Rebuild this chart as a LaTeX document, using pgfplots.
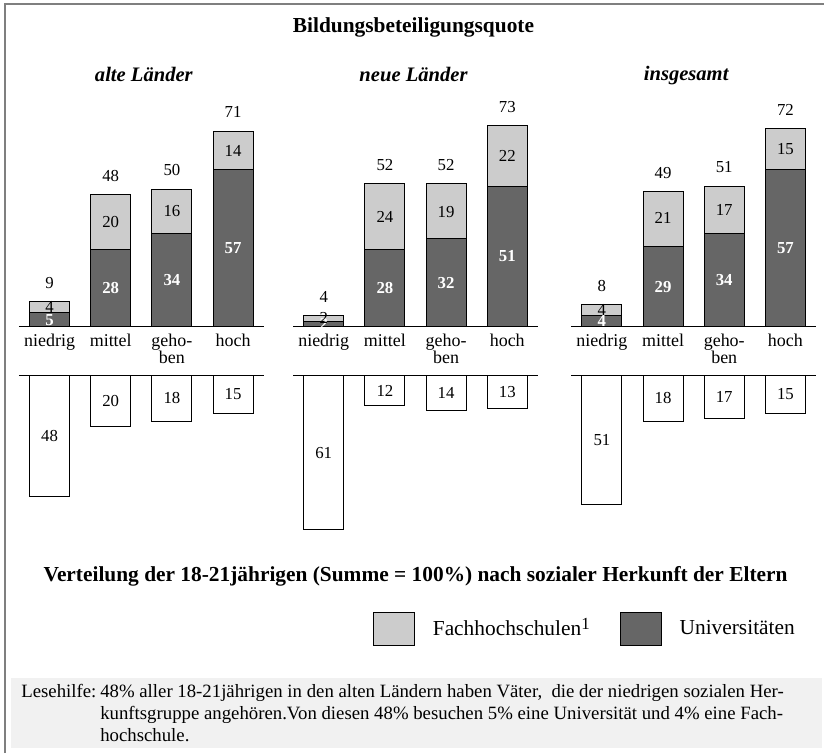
\documentclass[border=0pt]{standalone}
\usepackage{fontspec}
\setmainfont{Liberation Serif}
\usepackage{pgfplots}
\usepackage{pgfplotstable}
\pgfplotsset{compat=1.18}

\definecolor{fhgray}{HTML}{CCCCCC}
\definecolor{unigray}{HTML}{666666}
\definecolor{boxgray}{HTML}{F1F1F1}
\definecolor{framegray}{HTML}{7F7F7F}

% x = Herkunftsgruppe (niedrig, mittel, gehoben, hoch)
% uni/fh/tot = Bildungsbeteiligungsquote, dist = Verteilung der 18-21jaehrigen
\pgfplotstableread{
x uni fh tot dist
0 5  4  9  48
1 28 20 48 20
2 34 16 50 18
3 57 14 71 15
}\alte
\pgfplotstableread{
x uni fh tot dist
0 2  2  4  61
1 28 24 52 12
2 32 19 52 14
3 51 22 73 13
}\neue
\pgfplotstableread{
x uni fh tot dist
0 4  4  8  51
1 29 21 49 18
2 34 17 51 17
3 57 15 72 15
}\gesamt

\pgfplotsset{
  upper/.style={scale only axis, width=122.5pt, height=110.2pt,
    xmin=-0.5, xmax=3.5, ymin=0, ymax=80,
    axis x line=bottom, axis y line=none,
    x axis line style={-, line width=0.5pt},
    xtick={0,1,2,3}, xticklabels={niedrig, mittel, {geho-\\ben}, hoch},
    major tick length=0pt, xtick style={draw=none},
    xticklabel style={align=center, font=\fontsize{9}{8.5}\selectfont},
    clip=false, anchor=south west},
  lower/.style={scale only axis, width=122.5pt, height=82.25pt,
    xmin=-0.5, xmax=3.5, ymin=-65, ymax=0,
    axis x line=top, axis y line=none,
    x axis line style={-, line width=0.5pt},
    xtick=\empty, clip=false, anchor=north west},
  bar/.style={ybar, bar width=20pt, bar shift=0pt, line width=0.5pt, draw=black,
    legend image code/.code={\draw[##1] (0pt,-8.25pt) rectangle (20.5pt,8.25pt);}},
  lab/.style={draw=none, mark=none, nodes near coords, point meta=explicit symbolic,
    nodes near coords style={anchor=center, inner sep=0pt,
      font=\fontsize{8.4}{9}\selectfont}},
  wlab/.style={lab, nodes near coords style={text=white,
      font=\fontsize{8.4}{9}\selectfont\bfseries}},
  tlab/.style={lab, nodes near coords style={yshift=9.5pt}},
}

\begin{document}
\begin{tikzpicture}
\begin{scope}[x=0.5pt,y=-0.5pt]
  \useasboundingbox (0,0) rectangle (825,754);
  \coordinate (U1) at (19,327);
  \coordinate (U2) at (293.5,327);
  \coordinate (U3) at (572,327);
  \coordinate (L1) at (19,376);
  \coordinate (L2) at (293.5,376);
  \coordinate (L3) at (572,376);
\end{scope}

% alte Laender
\begin{axis}[upper, at={(U1)}]
  \addplot[bar, fill=fhgray] table[x=x, y=tot] {\alte};
  \addplot[bar, fill=unigray] table[x=x, y=uni] {\alte};
  \addplot[wlab] table[x=x, y expr=\thisrow{uni}/2, meta=uni] {\alte};
  \addplot[lab] table[x=x, y expr=\thisrow{uni}+\thisrow{fh}/2, meta=fh] {\alte};
  \addplot[tlab] table[x=x, y=tot, meta=tot] {\alte};
\end{axis}
\begin{axis}[lower, at={(L1)}]
  \addplot[bar, fill=white] table[x=x, y expr=-\thisrow{dist}] {\alte};
  \addplot[lab] table[x=x, y expr=-\thisrow{dist}/2, meta=dist] {\alte};
\end{axis}

% neue Laender (mit Legende)
\begin{axis}[upper, at={(U2)},
    legend style={at={(0.300,-1.375)}, anchor=west, draw=none, fill=none,
      legend columns=-1, font=\fontsize{10.7}{12}\selectfont,
      /tikz/every odd column/.append style={column sep=7pt},
      /tikz/every even column/.append style={column sep=13pt}}]
  \addplot[bar, fill=fhgray] table[x=x, y=tot] {\neue};
  \addplot[bar, fill=unigray] table[x=x, y=uni] {\neue};
  \addplot[wlab] table[x=x, y expr=\thisrow{uni}/2, meta=uni] {\neue};
  \addplot[lab] table[x=x, y expr=\thisrow{uni}+\thisrow{fh}/2, meta=fh] {\neue};
  \addplot[tlab] table[x=x, y=tot, meta=tot] {\neue};
  \legend{Fachhochschulen\smash{\raisebox{0.55ex}{\fontsize{8.5}{9}\selectfont 1}}, Universitäten}
\end{axis}
\begin{axis}[lower, at={(L2)}]
  \addplot[bar, fill=white] table[x=x, y expr=-\thisrow{dist}] {\neue};
  \addplot[lab] table[x=x, y expr=-\thisrow{dist}/2, meta=dist] {\neue};
\end{axis}

% insgesamt
\begin{axis}[upper, at={(U3)}]
  \addplot[bar, fill=fhgray] table[x=x, y=tot] {\gesamt};
  \addplot[bar, fill=unigray] table[x=x, y=uni] {\gesamt};
  \addplot[wlab] table[x=x, y expr=\thisrow{uni}/2, meta=uni] {\gesamt};
  \addplot[lab] table[x=x, y expr=\thisrow{uni}+\thisrow{fh}/2, meta=fh] {\gesamt};
  \addplot[tlab] table[x=x, y=tot, meta=tot] {\gesamt};
\end{axis}
\begin{axis}[lower, at={(L3)}]
  \addplot[bar, fill=white] table[x=x, y expr=-\thisrow{dist}] {\gesamt};
  \addplot[lab] table[x=x, y expr=-\thisrow{dist}/2, meta=dist] {\gesamt};
\end{axis}

\begin{scope}[x=0.5pt,y=-0.5pt]
  \draw[framegray, line width=1pt] (5,754) -- (5,4) -- (825,4);
  \fill[boxgray] (11,679) rectangle (823,749);
  \node[font=\fontsize{10.7}{12}\selectfont\bfseries] at (414,27) {Bildungsbeteiligungsquote};
  \node[font=\fontsize{10.3}{12}\selectfont\bfseries\itshape] at (144,75) {alte Länder};
  \node[font=\fontsize{10.3}{12}\selectfont\bfseries\itshape] at (414,75) {neue Länder};
  \node[font=\fontsize{10.3}{12}\selectfont\bfseries\itshape] at (687,76) {insgesamt};
  \node[font=\fontsize{10.7}{12}\selectfont\bfseries] at (416,577)
    {Verteilung der 18-21jährigen (Summe = 100\%) nach sozialer Herkunft der Eltern};
  \node[anchor=north west, inner sep=0pt, font=\fontsize{9.4}{11}\selectfont] at (21,685) {Lesehilfe:};
  \node[anchor=north west, inner sep=0pt, align=left, font=\fontsize{9.4}{11}\selectfont] at (100,685)
    {48\% aller 18-21jährigen in den alten Ländern haben Väter,\ \ die der niedrigen sozialen Her-\\
     kunftsgruppe angehören.Von diesen 48\% besuchen 5\% eine Universität und 4\% eine Fach-\\
     hochschule.};
\end{scope}
\end{tikzpicture}
\end{document}
